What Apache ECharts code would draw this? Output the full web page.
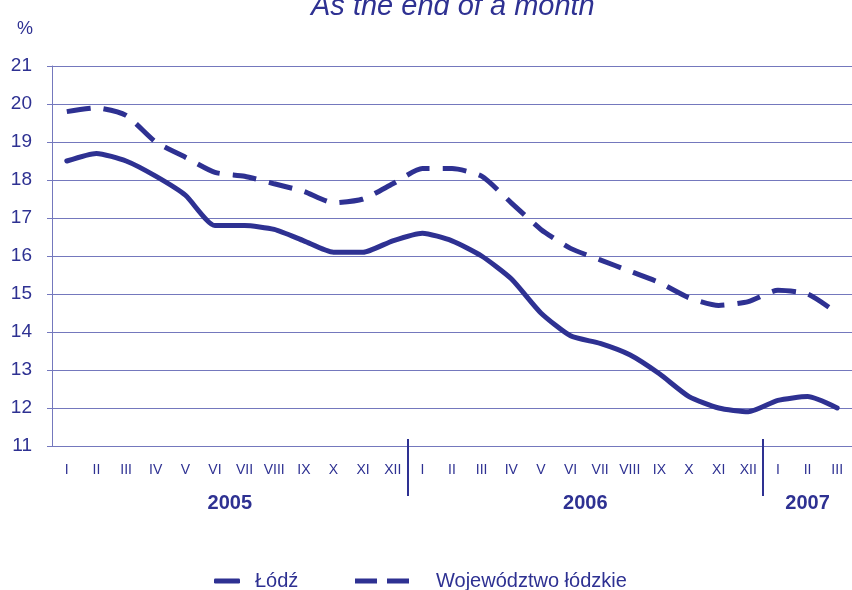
<!DOCTYPE html>
<html>
<head>
<meta charset="utf-8">
<script src="https://cdn.jsdelivr.net/npm/echarts@6/dist/echarts.min.js"></script>
<style>
html, body { margin: 0; padding: 0; background: #fff; }
#chart { width: 852px; height: 590px; }
</style>
</head>
<body>
<div id="chart"></div>
<script>
// dane
var years = ['2005', '2006', '2007'];
var monthsPerYear = [12, 12, 3];
var monthNames = ['I', 'II', 'III', 'IV', 'V', 'VI', 'VII', 'VIII', 'IX', 'X', 'XI', 'XII'];
var lodz = [18.5, 18.7, 18.5, 18.1, 17.6, 16.8, 16.8, 16.7, 16.4, 16.1, 16.1, 16.4,
	16.6, 16.4, 16.0, 15.4, 14.5, 13.9, 13.7, 13.4, 12.9, 12.3, 12.0, 11.9,
	12.2, 12.3, 12.0];
var wojewodztwo = [19.8, 19.9, 19.7, 19.0, 18.6, 18.2, 18.1, 17.9, 17.7, 17.4, 17.5, 17.9,
	18.3, 18.3, 18.1, 17.4, 16.7, 16.2, 15.9, 15.6, 15.3, 14.9, 14.7, 14.8,
	15.1, 15.0, 14.5];

var blue = '#2E3192';
var gridBlue = '#7478bd';
var font = 'Liberation Sans, Arial, sans-serif';

// kategorie osi X i granice lat
var categories = [];
var boundaries = [];
var centers = [];
var count = 0;
for (var i = 0; i < years.length; i++) {
	for (var m = 0; m < monthsPerYear[i]; m++) {
		categories.push(monthNames[m]);
	}
	centers.push(count + monthsPerYear[i] / 2);
	count += monthsPerYear[i];
	if (i < years.length - 1) boundaries.push(count);
}

var chart = echarts.init(document.getElementById('chart'));
var option = {
	animation: false,
	title: [{
		text: 'As the end of a month',
		left: 306,
		top: -13,
		textStyle: { color: blue, fontFamily: font, fontSize: 29, fontStyle: 'italic', fontWeight: 'normal' }
	}, {
		text: '%',
		left: 12,
		top: 15,
		textStyle: { color: blue, fontFamily: font, fontSize: 18, fontWeight: 'normal' }
	}],
	legend: [{
		data: [{ name: 'Łódź', icon: 'roundRect' }],
		left: 209,
		top: 566,
		itemWidth: 26,
		itemHeight: 5,
		textStyle: { color: blue, fontFamily: font, fontSize: 20, padding: [0, 0, 0, 10] }
	}, {
		data: [{ name: 'Województwo łódzkie', icon: 'path://M0,0H22V5H0ZM32,0H54V5H32Z' }],
		left: 350,
		top: 566,
		itemWidth: 54,
		itemHeight: 5,
		textStyle: { color: blue, fontFamily: font, fontSize: 20, padding: [0, 0, 0, 22] }
	}],
	grid: {
		left: 52,
		top: 66,
		width: count * 30,
		bottom: 144
	},
	xAxis: [{
		type: 'category',
		data: categories,
		boundaryGap: true,
		axisLine: { lineStyle: { color: gridBlue, width: 1 } },
		axisTick: { length: 4, lineStyle: { color: gridBlue } },
		axisLabel: { interval: 0, color: blue, fontFamily: font, fontSize: 14, margin: 17 }
	}, {
		// separatory lat i etykiety lat
		type: 'value',
		position: 'bottom',
		offset: -7,
		min: 0,
		max: count,
		axisLine: { show: false },
		splitLine: { show: false },
		axisTick: { show: true, customValues: boundaries, length: 57, lineStyle: { color: blue, width: 2 } },
		axisLabel: {
			customValues: centers,
			color: blue,
			fontFamily: font,
			fontSize: 20,
			fontWeight: 'bold',
			margin: 54,
			formatter: function(value) {
				var idx = centers.indexOf(value);
				return idx >= 0 ? years[idx] : '';
			}
		}
	}],
	yAxis: {
		type: 'value',
		min: 11,
		max: 21,
		interval: 1,
		axisLine: { show: true, lineStyle: { color: gridBlue, width: 1 } },
		axisTick: { show: true, length: 5, lineStyle: { color: gridBlue } },
		axisLabel: { color: blue, fontFamily: font, fontSize: 19, margin: 20 },
		splitLine: { lineStyle: { color: gridBlue, width: 1 } }
	},
	series: [{
		name: 'Łódź',
		type: 'line',
		data: lodz,
		symbol: 'none',
		smooth: 0.2,
		lineStyle: { color: blue, width: 5, cap: 'round', join: 'round' },
		itemStyle: { color: blue }
	}, {
		name: 'Województwo łódzkie',
		type: 'line',
		data: wojewodztwo,
		symbol: 'none',
		smooth: 0.2,
		lineStyle: { color: blue, width: 5, type: [24, 13], cap: 'butt' },
		itemStyle: { color: blue }
	}]
};
chart.setOption(option);
</script>
</body>
</html>
